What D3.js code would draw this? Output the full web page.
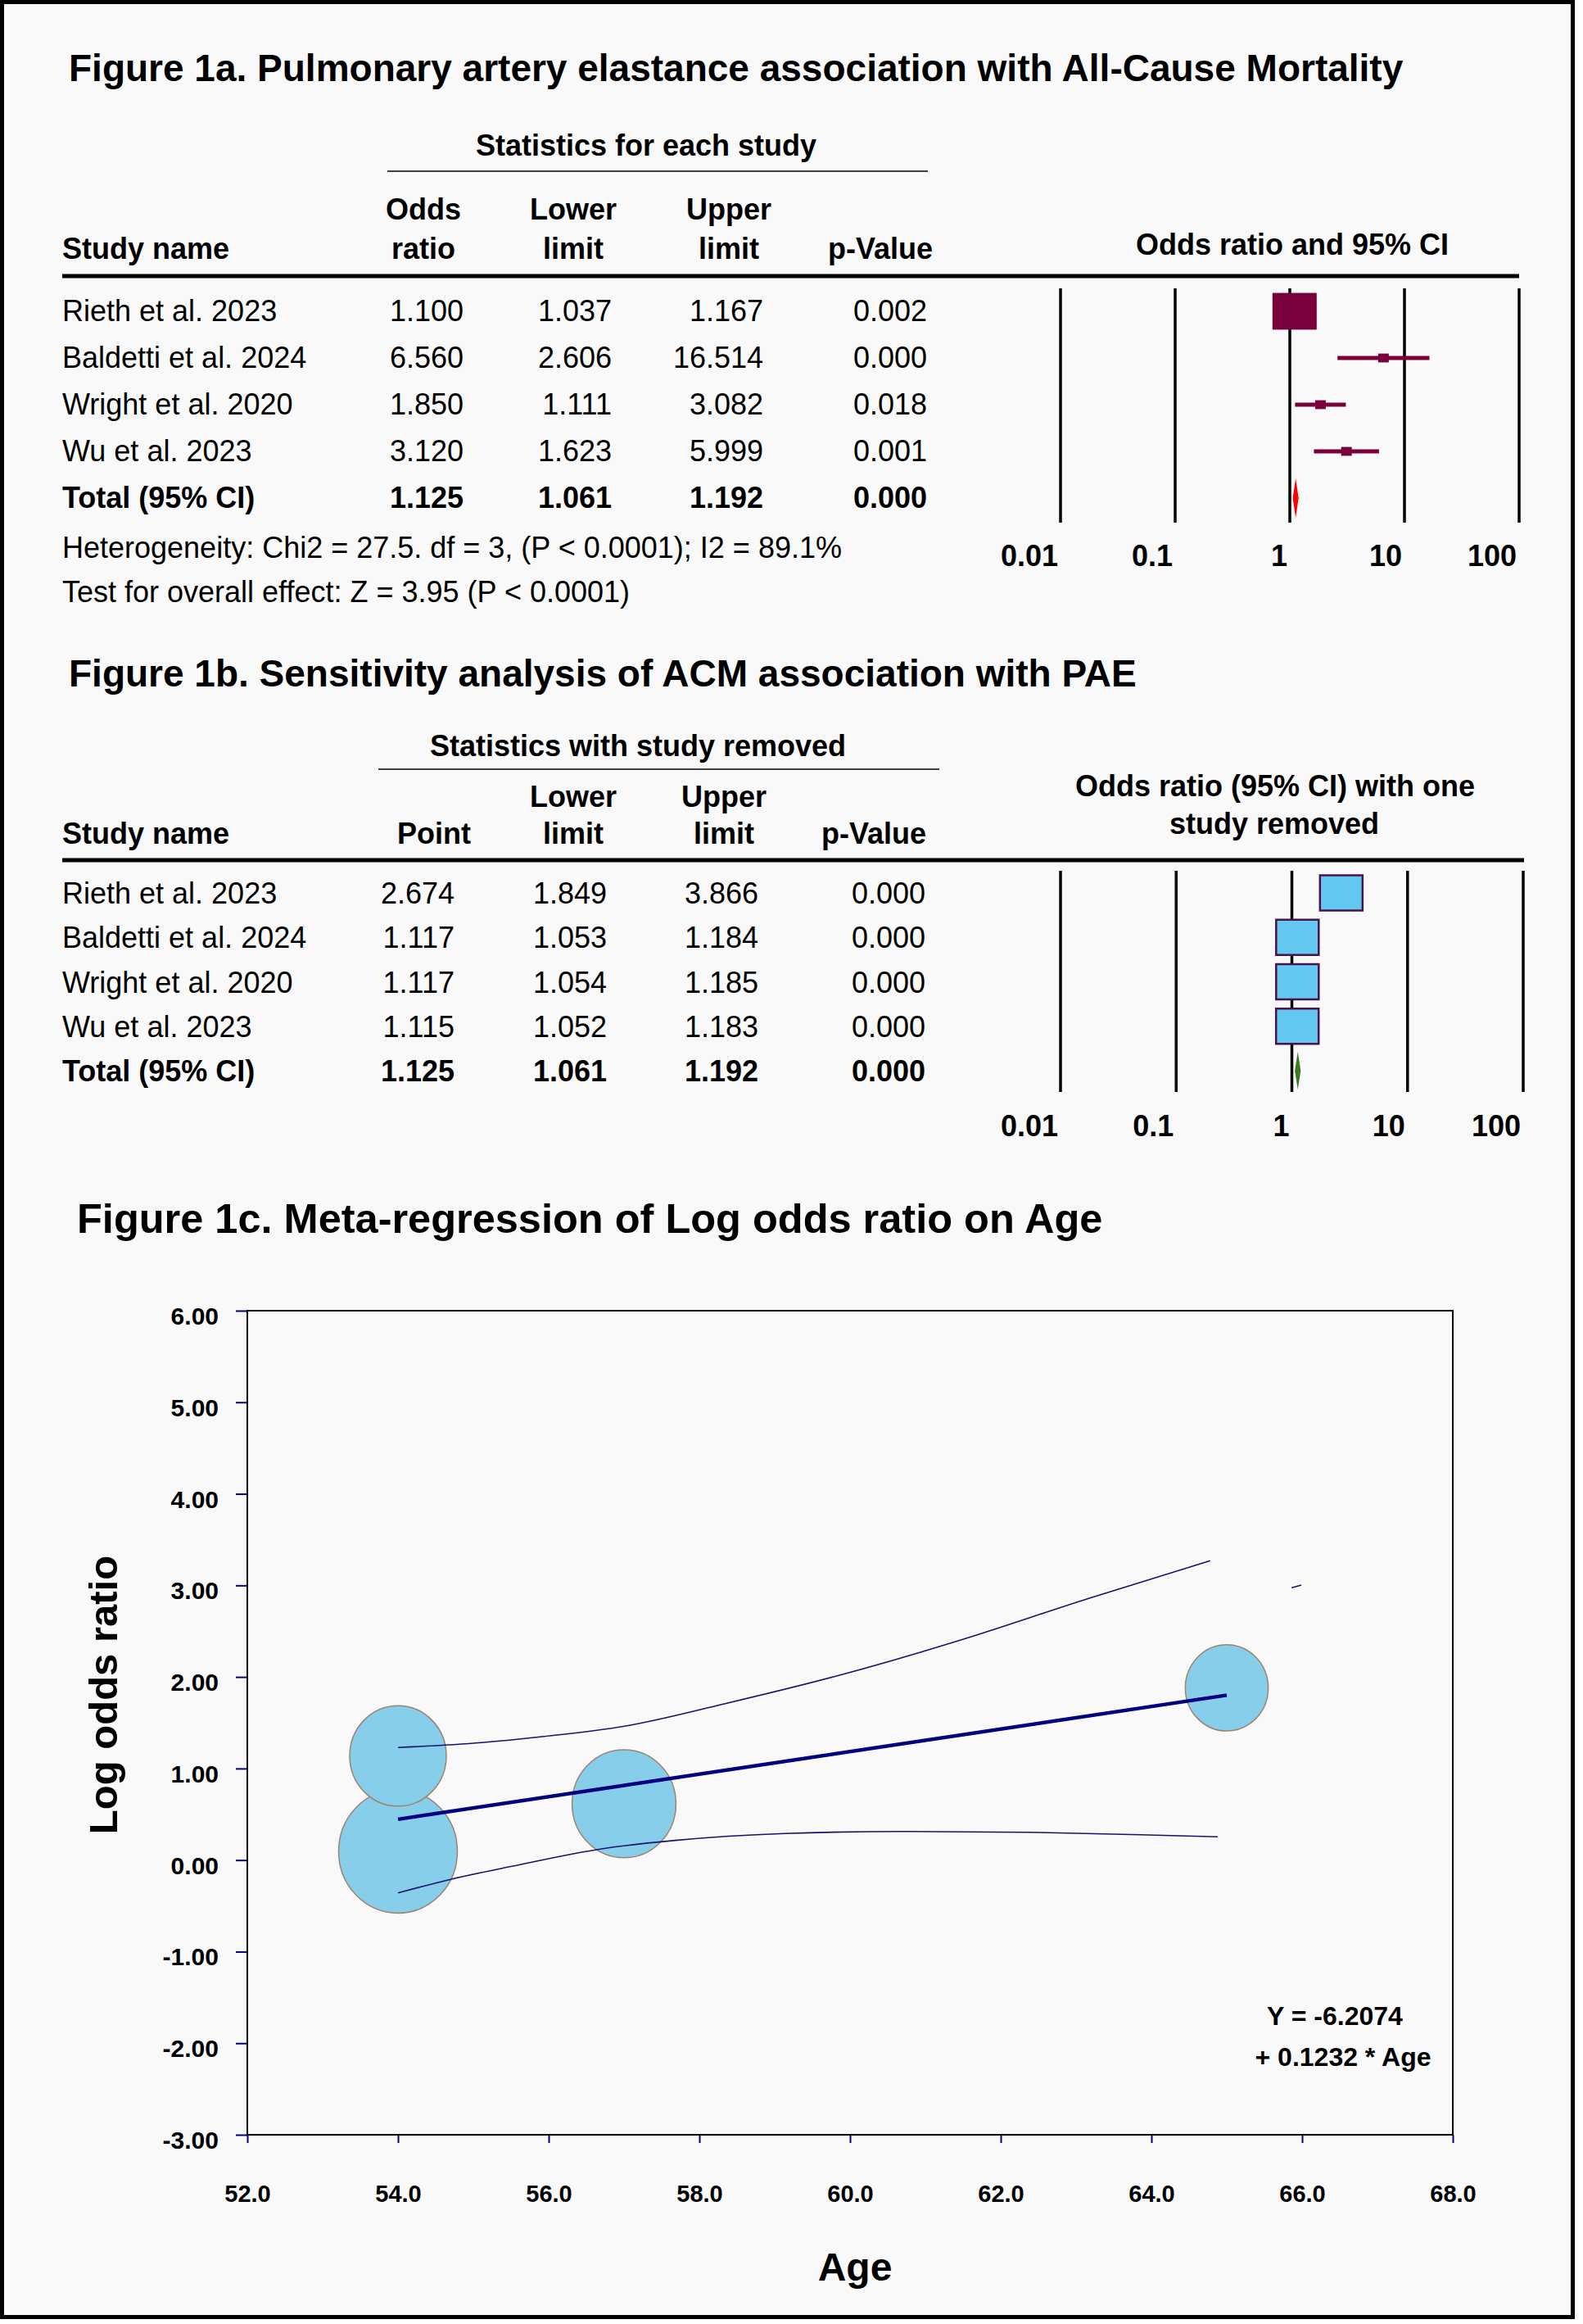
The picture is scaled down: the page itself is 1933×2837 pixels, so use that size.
<!DOCTYPE html>
<html>
<head>
<meta charset="utf-8">
<script src="https://cdn.jsdelivr.net/npm/d3@7"></script>
<style>
  body { margin: 0; background: #fff; }
  text { font-family: "Liberation Sans", Arial, sans-serif; fill: #000; }
</style>
</head>
<body>
<script>
// studies (same order in all three panels)
const studies = ["Rieth et al. 2023", "Baldetti et al. 2024", "Wright et al. 2020", "Wu et al. 2023"];

// Figure 1a - statistics for each study
const oddsRatio = [1.100, 6.560, 1.850, 3.120];
const lowerLimit = [1.037, 2.606, 1.111, 1.623];
const upperLimit = [1.167, 16.514, 3.082, 5.999];
const pValue = [0.002, 0.000, 0.018, 0.001];
const totalRow = [1.125, 1.061, 1.192, 0.000];

// Figure 1b - one study removed
const pointRemoved = [2.674, 1.117, 1.117, 1.115];
const lowerRemoved = [1.849, 1.053, 1.054, 1.052];
const upperRemoved = [3.866, 1.184, 1.185, 1.183];
const pRemoved = [0.000, 0.000, 0.000, 0.000];

const forestTicks = [0.01, 0.1, 1, 10, 100];

// Figure 1c - meta-regression
const ages = [54, 65, 57, 54];
const relWeight = [29.5, 20.6, 25.8, 24.0];   // bubble weights
const regCoef = [-6.2074, 0.1232];
const upperAge = [54.0, 55.11, 55.91, 57.04, 58.33, 59.93, 61.54, 63.15, 64.78];
const upperVal = [1.229, 1.283, 1.348, 1.467, 1.706, 2.034, 2.422, 2.854, 3.269];
const upperTailAge = [65.86, 65.99];
const upperTailVal = [2.974, 3.003];
const lowerAge = [54.0, 54.71, 55.51, 56.72, 57.68, 59.13, 60.74, 62.35, 63.95, 64.88];
const lowerVal = [-0.358, -0.208, -0.068, 0.125, 0.215, 0.290, 0.313, 0.304, 0.275, 0.254];
const yTicks = [-3, -2, -1, 0, 1, 2, 3, 4, 5, 6];
const xTicks = [52, 54, 56, 58, 60, 62, 64, 66, 68];

const W = 1933, H = 2837;
const svg = d3.select("body").append("svg")
  .attr("width", W).attr("height", H);

svg.append("rect").attr("x", 0).attr("y", 0).attr("width", W).attr("height", H).attr("fill", "#fff");
svg.append("rect")
  .attr("x", 2.5).attr("y", 2.5).attr("width", 1918).attr("height", 2826)
  .attr("fill", "#f9f9f9").attr("stroke", "#000").attr("stroke-width", 5);

function txt(x, y, s, size, bold, anchor) {
  return svg.append("text")
    .attr("x", x).attr("y", y)
    .attr("font-size", size)
    .attr("font-weight", bold ? "bold" : "normal")
    .attr("text-anchor", anchor || "start")
    .text(s);
}
function hline(x1, x2, y, w) {
  svg.append("line").attr("x1", x1).attr("x2", x2).attr("y1", y).attr("y2", y)
    .attr("stroke", "#000").attr("stroke-width", w);
}
const f3 = d3.format(".3f");

// ---------------- Figure 1a ----------------
txt(84, 99, "Figure 1a. Pulmonary artery elastance association with All-Cause Mortality", 46, true);
txt(789, 190, "Statistics for each study", 36, true, "middle");
hline(473, 1133, 209, 1.5);
txt(517, 268, "Odds", 36, true, "middle");
txt(700, 268, "Lower", 36, true, "middle");
txt(890, 268, "Upper", 36, true, "middle");
txt(76, 316, "Study name", 36, true);
txt(517, 316, "ratio", 36, true, "middle");
txt(700, 316, "limit", 36, true, "middle");
txt(890, 316, "limit", 36, true, "middle");
txt(1075, 316, "p-Value", 36, true, "middle");
txt(1578, 311, "Odds ratio and 95% CI", 36, true, "middle");
hline(76, 1855, 337, 5);

const row1a = i => 380 + i * 57;
const colEnd1a = [566, 747, 932, 1132];
studies.forEach((s, i) => {
  const y = row1a(i) + 12;
  txt(76, y, s, 36, false);
  [oddsRatio[i], lowerLimit[i], upperLimit[i], pValue[i]].forEach((v, j) => {
    txt(colEnd1a[j], y, f3(v), 36, false, "end");
  });
});
txt(76, row1a(4) + 12, "Total (95% CI)", 36, true);
totalRow.forEach((v, j) => txt(colEnd1a[j], row1a(4) + 12, f3(v), 36, true, "end"));
txt(76, 681, "Heterogeneity: Chi2 = 27.5. df = 3, (P < 0.0001); I2 = 89.1%", 36, false);
txt(76, 735, "Test for overall effect: Z = 3.95 (P < 0.0001)", 36, false);

const xA = d3.scaleLog().domain([0.01, 100]).range([1295, 1855]);
svg.append("g").selectAll("line").data(forestTicks).join("line")
  .attr("x1", d => xA(d)).attr("x2", d => xA(d))
  .attr("y1", 352).attr("y2", 638)
  .attr("stroke", "#000").attr("stroke-width", 3.5);
svg.append("g").selectAll("text").data(forestTicks).join("text")
  .attr("x", d => xA(d) - 3).attr("y", 691)
  .attr("text-anchor", "end").attr("font-size", 36).attr("font-weight", "bold")
  .text(d => String(d));

// inverse-variance weights from the confidence limits, for box size
const wts = studies.map((s, i) => {
  const se = (Math.log(upperLimit[i]) - Math.log(lowerLimit[i])) / 3.92;
  return 1 / (se * se);
});
const boxS = d3.scaleSqrt().domain([0, d3.max(wts)]).range([0, 54]);
const maroon = "#7a003c";
const g1a = svg.append("g");
studies.forEach((s, i) => {
  const cy = row1a(i);
  g1a.append("line")
    .attr("x1", xA(lowerLimit[i])).attr("x2", xA(upperLimit[i]))
    .attr("y1", cy).attr("y2", cy)
    .attr("stroke", maroon).attr("stroke-width", 5);
  const bw = Math.max(13, boxS(wts[i]));
  const bh = bw * 0.83;
  g1a.append("rect")
    .attr("x", xA(oddsRatio[i]) - bw / 2).attr("y", cy - bh / 2)
    .attr("width", bw).attr("height", bh)
    .attr("fill", maroon);
});
{
  const cy = row1a(4);
  g1a.append("path")
    .attr("d", `M${xA(totalRow[1])},${cy} L${xA(totalRow[0])},${cy - 24} L${xA(totalRow[2])},${cy} L${xA(totalRow[0])},${cy + 24}Z`)
    .attr("fill", "#ff0000");
}

// ---------------- Figure 1b ----------------
txt(84, 838, "Figure 1b. Sensitivity analysis of ACM association with PAE", 46, true);
txt(779, 923, "Statistics with study removed", 36, true, "middle");
hline(462, 1147, 939, 1.5);
txt(700, 985, "Lower", 36, true, "middle");
txt(884, 985, "Upper", 36, true, "middle");
txt(76, 1030, "Study name", 36, true);
txt(530, 1030, "Point", 36, true, "middle");
txt(700, 1030, "limit", 36, true, "middle");
txt(884, 1030, "limit", 36, true, "middle");
txt(1067, 1030, "p-Value", 36, true, "middle");
txt(1557, 972, "Odds ratio (95% CI) with one", 36, true, "middle");
txt(1556, 1018, "study removed", 36, true, "middle");
hline(76, 1861, 1050, 5);

const row1b = i => 1090 + i * 54.25;
const colEnd1b = [555, 741, 926, 1130];
studies.forEach((s, i) => {
  const y = row1b(i) + 13;
  txt(76, y, s, 36, false);
  [pointRemoved[i], lowerRemoved[i], upperRemoved[i], pRemoved[i]].forEach((v, j) => {
    txt(colEnd1b[j], y, f3(v), 36, false, "end");
  });
});
txt(76, row1b(4) + 13, "Total (95% CI)", 36, true);
totalRow.forEach((v, j) => txt(colEnd1b[j], row1b(4) + 13, f3(v), 36, true, "end"));

const xB = d3.scaleLog().domain([0.01, 100]).range([1295, 1860]);
svg.append("g").selectAll("line").data(forestTicks).join("line")
  .attr("x1", d => xB(d)).attr("x2", d => xB(d))
  .attr("y1", 1063).attr("y2", 1333)
  .attr("stroke", "#000").attr("stroke-width", 3.5);
svg.append("g").selectAll("text").data(forestTicks).join("text")
  .attr("x", d => xB(d) - 3).attr("y", 1387)
  .attr("text-anchor", "end").attr("font-size", 36).attr("font-weight", "bold")
  .text(d => String(d));

const g1b = svg.append("g");
studies.forEach((s, i) => {
  const cy = row1b(i);
  g1b.append("line")
    .attr("x1", xB(lowerRemoved[i])).attr("x2", xB(upperRemoved[i]))
    .attr("y1", cy).attr("y2", cy)
    .attr("stroke", "#4b1248").attr("stroke-width", 3);
  g1b.append("rect")
    .attr("x", xB(pointRemoved[i]) - 26).attr("y", cy - 21.5)
    .attr("width", 52).attr("height", 43)
    .attr("fill", "#62c8f2").attr("stroke", "#4b1248").attr("stroke-width", 2.5);
});
{
  const cy = row1b(4);
  g1b.append("path")
    .attr("d", `M${xB(totalRow[1])},${cy} L${xB(totalRow[0])},${cy - 23} L${xB(totalRow[2])},${cy} L${xB(totalRow[0])},${cy + 23}Z`)
    .attr("fill", "#3a7a20");
}

// ---------------- Figure 1c ----------------
txt(94, 1505, "Figure 1c. Meta-regression of Log odds ratio on Age", 50.5, true);

const x = d3.scaleLinear().domain([52, 68]).range([302, 1774]);
const y = d3.scaleLinear().domain([-3, 6]).range([2606, 1600]);
const navy = "#000080";

const yAxis = svg.append("g").attr("transform", `translate(${x(52)},0)`)
  .call(d3.axisLeft(y).tickValues(yTicks).tickSize(14).tickPadding(21).tickFormat(d => d.toFixed(2)));
yAxis.select(".domain").remove();
yAxis.selectAll(".tick line").attr("stroke", navy).attr("stroke-width", 2);
yAxis.selectAll(".tick text")
  .attr("font-size", 30).attr("font-weight", "bold").attr("font-family", "Liberation Sans, Arial, sans-serif")
  .attr("fill", "#000").attr("dy", "0.55em");

const xAxis = svg.append("g").attr("transform", `translate(0,${y(-3)})`)
  .call(d3.axisBottom(x).tickValues(xTicks).tickSize(10).tickFormat(d => d.toFixed(1)));
xAxis.select(".domain").remove();
xAxis.selectAll(".tick line").attr("stroke", navy).attr("stroke-width", 2);
xAxis.selectAll(".tick text")
  .attr("font-size", 29).attr("font-weight", "bold").attr("font-family", "Liberation Sans, Arial, sans-serif")
  .attr("fill", "#000").attr("y", 82).attr("dy", 0);

svg.append("rect")
  .attr("x", x(52)).attr("y", y(6))
  .attr("width", x(68) - x(52)).attr("height", y(-3) - y(6))
  .attr("fill", "none").attr("stroke", "#000").attr("stroke-width", 2);

const logOR = oddsRatio.map(v => Math.log(v));
const rScale = d3.scaleLinear().domain([0, d3.max(relWeight)]).range([0, 72.5]);
svg.append("g").selectAll("ellipse").data(studies).join("ellipse")
  .attr("cx", (d, i) => x(ages[i]))
  .attr("cy", (d, i) => y(logOR[i]))
  .attr("rx", (d, i) => rScale(relWeight[i]))
  .attr("ry", (d, i) => rScale(relWeight[i]) * 1.04)
  .attr("fill", "#87ceeb").attr("stroke", "#9c8470").attr("stroke-width", 1.5);

const band = d3.line().x(d => x(d[0])).y(d => y(d[1])).curve(d3.curveMonotoneX);
svg.append("path").datum(d3.zip(upperAge, upperVal)).attr("d", band)
  .attr("fill", "none").attr("stroke", "#14146e").attr("stroke-width", 1.6);
svg.append("path").datum(d3.zip(upperTailAge, upperTailVal)).attr("d", band)
  .attr("fill", "none").attr("stroke", "#14146e").attr("stroke-width", 1.6);
svg.append("path").datum(d3.zip(lowerAge, lowerVal)).attr("d", band)
  .attr("fill", "none").attr("stroke", "#14146e").attr("stroke-width", 1.6);

const ageRange = d3.extent(ages);
svg.append("line")
  .attr("x1", x(ageRange[0])).attr("y1", y(regCoef[0] + regCoef[1] * ageRange[0]))
  .attr("x2", x(ageRange[1])).attr("y2", y(regCoef[0] + regCoef[1] * ageRange[1]))
  .attr("stroke", navy).attr("stroke-width", 4.5);

txt(1630, 2472, "Y = -6.2074", 32, true, "middle");
txt(1640, 2522, "+ 0.1232 * Age", 32, true, "middle");

txt(1044, 2784, "Age", 48, true, "middle");
svg.append("text")
  .attr("transform", "translate(143,2069) rotate(-90)")
  .attr("text-anchor", "middle")
  .attr("font-size", 49).attr("font-weight", "bold")
  .text("Log odds ratio");
</script>
</body>
</html>
